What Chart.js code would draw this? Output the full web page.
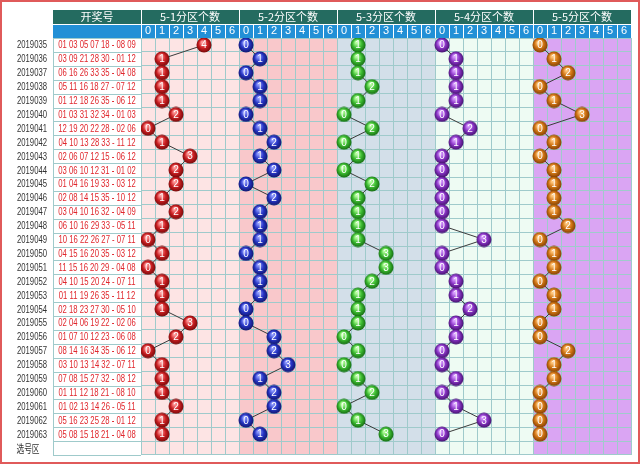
<!DOCTYPE html>
<html>
<head>
<meta charset="utf-8">
<script src="https://cdn.jsdelivr.net/npm/chart.js@4/dist/chart.umd.min.js"></script>
<style>
  body { margin: 0; background: #fff; }
  canvas { display: block; }
</style>
</head>
<body>
<canvas id="trendChart" width="640" height="464"></canvas>
<script>
const issues = ['2019035', '2019036', '2019037', '2019038', '2019039', '2019040', '2019041', '2019042',
  '2019043', '2019044', '2019045', '2019046', '2019047', '2019048', '2019049', '2019050', '2019051',
  '2019052', '2019053', '2019054', '2019055', '2019056', '2019057', '2019058', '2019059', '2019060',
  '2019061', '2019062', '2019063'];
const draws = ['01 03 05 07 18 - 08 09', '03 09 21 28 30 - 01 12', '06 16 26 33 35 - 04 08',
  '05 11 16 18 27 - 07 12', '01 12 18 26 35 - 06 12', '01 03 31 32 34 - 01 03', '12 19 20 22 28 - 02 06',
  '04 10 13 28 33 - 11 12', '02 06 07 12 15 - 06 12', '03 06 10 12 31 - 01 02', '01 04 16 19 33 - 03 12',
  '02 08 14 15 35 - 10 12', '03 04 10 16 32 - 04 09', '06 10 16 29 33 - 05 11', '10 16 22 26 27 - 07 11',
  '04 15 16 20 35 - 03 12', '11 15 16 20 29 - 04 08', '04 10 15 20 24 - 07 11', '01 11 19 26 35 - 11 12',
  '02 18 23 27 30 - 05 10', '02 04 06 19 22 - 02 06', '01 07 10 12 23 - 06 08', '08 14 16 34 35 - 06 12',
  '03 10 13 14 32 - 07 11', '07 08 15 27 32 - 08 12', '01 11 12 18 21 - 08 10', '01 02 13 14 26 - 05 11',
  '05 16 23 25 28 - 01 12', '05 08 15 18 21 - 04 08'];
const footerLabel = '选号区';
const zoneNames = ['5-1分区个数', '5-2分区个数', '5-3分区个数', '5-4分区个数', '5-5分区个数'];
const countTicks = ['0', '1', '2', '3', '4', '5', '6'];

const zone1 = [4, 1, 1, 1, 1, 2, 0, 1, 3, 2, 2, 1, 2, 1, 0, 1, 0, 1, 1, 1, 3, 2, 0, 1, 1, 1, 2, 1, 1];
const zone2 = [0, 1, 0, 1, 1, 0, 1, 2, 1, 2, 0, 2, 1, 1, 1, 0, 1, 1, 1, 0, 0, 2, 2, 3, 1, 2, 2, 0, 1];
const zone3 = [1, 1, 1, 2, 1, 0, 2, 0, 1, 0, 2, 1, 1, 1, 1, 3, 3, 2, 1, 1, 1, 0, 1, 0, 1, 2, 0, 1, 3];
const zone4 = [0, 1, 1, 1, 1, 0, 2, 1, 0, 0, 0, 0, 0, 0, 3, 0, 0, 1, 1, 2, 1, 1, 0, 0, 1, 0, 1, 3, 0];
const zone5 = [0, 1, 2, 0, 1, 3, 0, 1, 0, 1, 1, 1, 1, 2, 0, 1, 1, 0, 1, 1, 0, 0, 2, 1, 1, 0, 0, 0, 0];

const zones = [zone1, zone2, zone3, zone4, zone5];
const rowLabels = [...issues, footerLabel];
const drawLabels = [...draws, ''];

const teal = '#246b60';
const blue = '#2290d6';
const gridColor = '#9fcacb';
const zoneFills = ['#fde4e4', '#f9c8cb', '#d3dfe9', '#eefbf3', '#daa5f3'];
const ballColors = [
  ['#ff9a9a', '#cc1f22', '#6e0808'],
  ['#8f9bff', '#2634c4', '#0e1565'],
  ['#b6ff9e', '#3dbd32', '#12650f'],
  ['#d79cff', '#8a34c6', '#3e0f66'],
  ['#ffc77d', '#d27514', '#7a3c02']
];
const labelFont = '11px "Liberation Sans", sans-serif';
const cjkFont = "'Noto Sans CJK SC', sans-serif";
const squeeze = 0.7; // the source text is horizontally condensed

function makeBall(colors) {
  const size = 16;
  const cv = document.createElement('canvas');
  cv.width = size;
  cv.height = size;
  const c = cv.getContext('2d');
  const g = c.createRadialGradient(size * 0.4, size * 0.33, 1, size / 2, size / 2, size / 2);
  g.addColorStop(0, colors[0]);
  g.addColorStop(0.5, colors[1]);
  g.addColorStop(1, colors[2]);
  c.fillStyle = g;
  c.beginPath();
  c.arc(size / 2, size / 2, size / 2 - 0.5, 0, Math.PI * 2);
  c.fill();
  return cv;
}

function squeezedText(ctx, text, x, y) {
  ctx.save();
  ctx.translate(x, y);
  ctx.scale(squeeze, 1);
  ctx.fillText(text, 0, 0);
  ctx.restore();
}

const tablePlugin = {
  id: 'table',
  beforeDraw(chart) {
    const { ctx, chartArea: area, scales: { x, y2 } } = chart;
    ctx.save();
    zoneFills.forEach((fill, z) => {
      const x0 = x.getPixelForValue(z * 7);
      const x1 = x.getPixelForValue(z * 7 + 7);
      ctx.fillStyle = fill;
      ctx.fillRect(x0, area.top, x1 - x0, area.bottom - area.top);
    });
    const mid = x.top + 14;
    ctx.fillStyle = teal;
    ctx.fillRect(y2.left, x.top, area.right - y2.left, mid - x.top);
    ctx.fillStyle = blue;
    ctx.fillRect(y2.left, mid, area.right - y2.left, x.bottom - mid);

    ctx.strokeStyle = '#ffffff';
    ctx.lineWidth = 1;
    ctx.beginPath();
    for (let i = 0; i <= 35; i++) {
      const px = Math.round(x.getPixelForValue(i)) + 0.5;
      ctx.moveTo(px, i % 7 === 0 ? x.top : mid + 1);
      ctx.lineTo(px, x.bottom);
    }
    ctx.moveTo(y2.left, mid + 0.5);
    ctx.lineTo(area.right, mid + 0.5);
    ctx.stroke();

    ctx.strokeStyle = gridColor;
    ctx.beginPath();
    for (let i = 0; i <= rowLabels.length; i++) {
      const py = Math.round(y2.getPixelForValue(i)) + 0.5;
      ctx.moveTo(y2.left, py);
      ctx.lineTo(area.left, py);
    }
    ctx.moveTo(y2.left + 0.5, area.top);
    ctx.lineTo(y2.left + 0.5, area.bottom);
    ctx.stroke();
    ctx.restore();
  },
  afterDatasetsDraw(chart) {
    const { ctx } = chart;
    ctx.save();
    ctx.fillStyle = '#ffffff';
    ctx.font = '10px "Liberation Sans", sans-serif';
    ctx.textAlign = 'center';
    ctx.textBaseline = 'middle';
    chart.data.datasets.forEach((ds, d) => {
      chart.getDatasetMeta(d).data.forEach((pt, i) => {
        ctx.fillText(String(zones[d][i]), pt.x, pt.y + 0.5);
      });
    });
    ctx.restore();
  },
  afterDraw(chart) {
    const { ctx, chartArea: area, scales: { x, y, y2 } } = chart;
    ctx.save();
    // row labels: issue numbers and drawn numbers
    ctx.textBaseline = 'middle';
    rowLabels.forEach((label, i) => {
      const py = y.getPixelForValue(i + 0.5) + 0.5;
      if (i < issues.length) {
        ctx.font = labelFont;
        ctx.fillStyle = '#333333';
        ctx.textAlign = 'right';
        squeezedText(ctx, label, y.right - 6, py);
      } else {
        ctx.font = '11px ' + cjkFont;
        ctx.fillStyle = '#333333';
        ctx.textAlign = 'center';
        squeezedText(ctx, label, y.left + 27, py);
      }
      ctx.font = labelFont;
      ctx.fillStyle = '#e0262c';
      ctx.textAlign = 'center';
      squeezedText(ctx, drawLabels[i], (y2.left + y2.right) / 2, py);
    });

    // header titles
    ctx.fillStyle = '#ffffff';
    ctx.font = '11px ' + cjkFont;
    ctx.textAlign = 'center';
    const midY = x.top + 7;
    ctx.fillText('开奖号', (y2.left + area.left) / 2, midY);
    zoneNames.forEach((name, z) => {
      ctx.fillText(name, x.getPixelForValue(z * 7 + 3.5), midY);
    });
    ctx.strokeStyle = '#e05a5a';
    ctx.lineWidth = 2;
    ctx.strokeRect(1, 1, chart.width - 2, chart.height - 2);
    ctx.restore();
  }
};

new Chart(document.getElementById('trendChart'), {
  type: 'scatter',
  data: {
    datasets: zones.map((vals, z) => ({
      data: vals.map((v, i) => ({ x: z * 7 + v + 0.5, y: i + 0.5 })),
      showLine: true,
      borderColor: '#3b3b3b',
      borderWidth: 1,
      pointStyle: makeBall(ballColors[z]),
      pointRadius: 8
    }))
  },
  options: {
    responsive: false,
    animation: false,
    layout: { padding: { top: 10, left: 1, right: 5, bottom: 2 } },
    plugins: { legend: { display: false }, tooltip: { enabled: false } },
    scales: {
      x: {
        type: 'linear',
        position: 'top',
        min: 0,
        max: 35,
        afterFit(scale) { scale.height = 28; },
        afterBuildTicks(scale) {
          scale.ticks = Array.from({ length: 35 }, (_, i) => ({ value: i + 0.5 }));
        },
        ticks: {
          autoSkip: false,
          maxRotation: 0,
          padding: 0,
          color: '#ffffff',
          font: { family: "'Liberation Sans', sans-serif", size: 11 },
          callback: (v, i) => countTicks[i % 7]
        },
        grid: { color: gridColor, offset: true, drawTicks: false },
        border: { display: false }
      },
      y: {
        type: 'linear',
        position: 'left',
        reverse: true,
        min: 0,
        max: rowLabels.length,
        weight: 2,
        afterFit(scale) { scale.width = 52; },
        afterBuildTicks(scale) {
          scale.ticks = rowLabels.map((_, i) => ({ value: i + 0.5 }));
        },
        ticks: { display: false },
        grid: { color: gridColor, offset: true, drawTicks: false },
        border: { display: false }
      },
      y2: {
        type: 'linear',
        position: 'left',
        reverse: true,
        min: 0,
        max: rowLabels.length,
        weight: 1,
        afterFit(scale) { scale.width = 88; },
        afterBuildTicks(scale) {
          scale.ticks = drawLabels.map((_, i) => ({ value: i + 0.5 }));
        },
        ticks: { display: false },
        grid: { display: false },
        border: { display: false }
      }
    }
  },
  plugins: [tablePlugin]
});
</script>
</body>
</html>
